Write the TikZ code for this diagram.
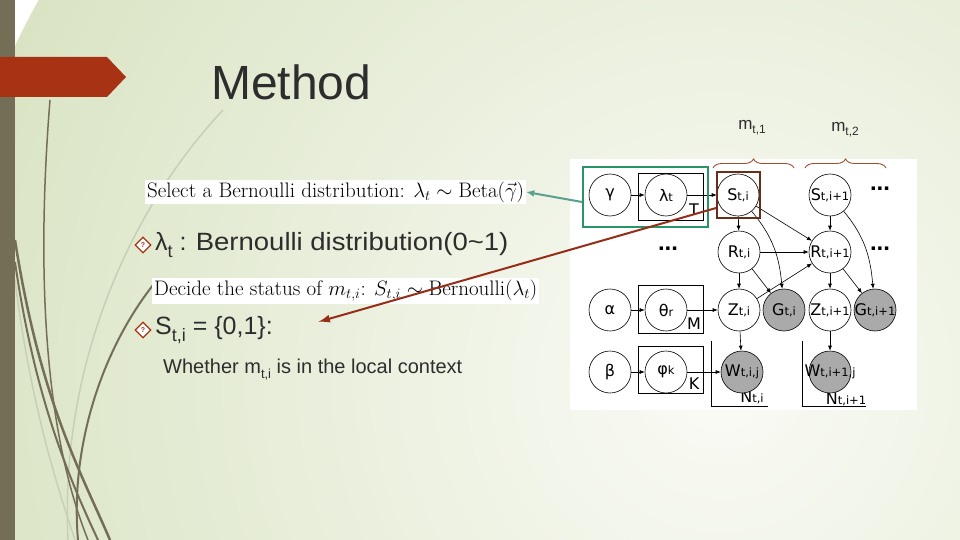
\documentclass[tikz,border=0pt]{standalone}
\usepackage{fontspec}
\newfontfamily\arial{Liberation Sans}
\newfontfamily\gfont{DejaVu Sans}
\usetikzlibrary{arrows.meta,decorations.pathreplacing,shapes.geometric}
\definecolor{olivebar}{RGB}{117,110,87}
\definecolor{bannerc}{RGB}{168,50,20}
\definecolor{bgA}{RGB}{218,228,196}
\definecolor{bgB}{RGB}{250,251,246}
\definecolor{gboxc}{RGB}{40,150,100}
\definecolor{bboxc}{RGB}{105,45,25}
\definecolor{redarr}{RGB}{150,45,25}
\definecolor{tealarr}{RGB}{90,160,145}
\definecolor{nodegrey}{RGB}{170,170,170}
\definecolor{bracec}{RGB}{160,80,45}
\definecolor{lightcurve}{RGB}{200,207,185}
\definecolor{txt}{RGB}{45,45,45}
\newcommand\sbs[1]{{\fontsize{11.5}{11.5}\selectfont #1}}
\tikzset{
  gn/.style={circle,draw,line width=0.6,minimum size=42,inner sep=0,fill=white},
  gg/.style={gn,fill=nodegrey},
  glab/.style={font=\gfont\fontsize{16}{16}\selectfont,inner sep=0},
  arr/.style={-{Latex[length=5,width=4]},line width=0.6},
  plate/.style={draw,line width=0.7},
  deco/.style={olivebar,line width=2},
  decolight/.style={lightcurve,line width=1.5},
  whitebox/.style={fill=white,inner sep=2,anchor=west,font=\fontsize{21}{21}\selectfont},
  bullet/.style={diamond,draw=bannerc,line width=1.2,fill=white,minimum size=16,inner sep=0,font=\arial\fontsize{7}{7}\selectfont\bfseries\color{bannerc}},
  btext/.style={anchor=west,inner sep=0,text=txt,font=\arial\fontsize{25}{25}\selectfont},
  dots/.style={font=\arial\bfseries\fontsize{24}{24}\selectfont,inner sep=0},
}
\begin{document}
\begin{tikzpicture}[x=1pt,y=-1pt]
\useasboundingbox (0,0) rectangle (960,540);
% background
\begin{scope}
\clip (0,0) rectangle (960,540);
\shade[inner color=bgB,outer color=bgA] (720,380) circle (780);
\end{scope}
% decorative curves
\draw[decolight] (223,110) .. controls (120,220) and (60,380) .. (68,540);
\draw[decolight] (15,280) .. controls (30,400) and (55,480) .. (75,540);
\draw[deco,line width=1.5] (50,100) .. controls (38,250) and (40,420) .. (88,540);
\draw[deco,line width=2.5] (15,240) .. controls (40,400) and (80,470) .. (110,540);
\draw[deco] (15,262) .. controls (35,400) and (70,480) .. (98,540);
\draw[deco] (157,280) .. controls (100,350) and (70,450) .. (78,540);
% left bar and banner
\fill[olivebar] (0,0) rectangle (15,540);
\fill[bannerc] (0,57) -- (107,57) -- (126,77) -- (107,97) -- (0,97) -- cycle;
% title
\node[anchor=west,inner sep=0,text=txt,font=\arial\fontsize{48}{48}\selectfont] (title) at (211,82) {Method};
% formula boxes
\node[whitebox] (t1) at (145,192) {Select a Bernoulli distribution: $\lambda_t\sim\mathrm{Beta}(\vec{\gamma})$};
\node[whitebox] (t2) at (152,291) {Decide the status of $m_{t,i}$: $S_{t,i}\sim\mathrm{Bernoulli}(\lambda_t)$};
% bullets
\node[bullet] (b1) at (143,245) {?};
\node[btext] (l1) at (155,245) {λ\raisebox{-7pt}{\fontsize{18}{18}\selectfont t} : \scalebox{1.1}[1]{Bernoulli distribution(0\textasciitilde 1)}};
\node[bullet] (b2) at (143,330) {?};
\node[btext] (l2) at (155,330) {S\raisebox{-7pt}{\fontsize{18}{18}\selectfont t,i} = \{0,1\}:};
\node[btext,font=\arial\fontsize{20}{20}\selectfont] (l3) at (163,370) {Whether m\raisebox{-5pt}{\fontsize{13}{13}\selectfont t,i} is in the local context};
% white panel
\fill[white] (570,159) rectangle (917,410);
% plates
\draw[plate] (638,173) rectangle (703,220);
\draw[plate] (638,285) rectangle (703,333);
\draw[plate] (638,346) rectangle (703,393);
\draw[plate] (711,341) -- (711,406) -- (768,406);
\draw[plate] (802,341) -- (802,406) -- (866,406);
\node[glab] (pT) at (694,210) {T};
\node[glab] (pM) at (694,324) {M};
\node[glab] (pK) at (694,384) {K};
\node[glab] (pN1) at (752,397) {N\sbs{t,i}};
\node[glab] (pN2) at (846,399) {N\sbs{t,i+1}};
% graph nodes
\node[gn,label={[glab]center:γ}] (ga) at (610,195) {};
\node[gn,label={[glab]center:λ\sbs{t}}] (la) at (666,195) {};
\node[gn,label={[glab]center:S\sbs{t,i}}] (s1) at (738,195) {};
\node[gn,label={[glab]center:S\sbs{t,i+1}}] (s2) at (830,195) {};
\node[gn,label={[glab]center:R\sbs{t,i}}] (r1) at (739,252) {};
\node[gn,label={[glab]center:R\sbs{t,i+1}}] (r2) at (830,252) {};
\node[gn,label={[glab]center:Z\sbs{t,i}}] (z1) at (739,310) {};
\node[gg,label={[glab]center:G\sbs{t,i}}] (g1) at (784,310) {};
\node[gn,label={[glab]center:Z\sbs{t,i+1}}] (z2) at (830,310) {};
\node[gg,label={[glab]center:G\sbs{t,i+1}}] (g2) at (875,310) {};
\node[gn,label={[glab]center:α}] (al) at (610,310) {};
\node[gn,label={[glab]center:θ\sbs{r}}] (th) at (666,310) {};
\node[gn,label={[glab]center:β}] (be) at (610,372) {};
\node[gn,label={[glab]center:φ\sbs{k}}] (ph) at (666,372) {};
\node[gg,label={[glab]center:W\sbs{t,i,j}}] (w1) at (742,372) {};
\node[gg,label={[glab]center:W\sbs{t,i+1,j}}] (w2) at (830,372) {};
% dots
\node[dots] (d1) at (880,189) {...};
\node[dots] (d2) at (668,249) {...};
\node[dots] (d3) at (880,249) {...};
% arrows
\draw[arr] (ga) -- (la);
\draw[arr] (la) -- (s1);
\draw[arr] (s1) -- (r1);
\draw[arr] (s1) -- (r2);
\draw[arr] (s1) to[out=-50,in=95] (g1);
\draw[arr] (s2) -- (r2);
\draw[arr] (s2) to[out=-50,in=95] (g2);
\draw[arr] (r1) -- (r2);
\draw[arr] (r1) -- (z1);
\draw[arr] (r1) -- (g1);
\draw[arr] (z1) -- (r2);
\draw[arr] (r2) -- (z2);
\draw[arr] (r2) -- (g2);
\draw[arr] (al) -- (th);
\draw[arr] (th) -- (z1);
\draw[arr] (z1) -- (w1);
\draw[arr] (z2) -- (w2);
\draw[arr] (be) -- (ph);
\draw[arr] (ph) -- (w1);
% highlight boxes
\node[draw=gboxc,line width=1.8,minimum width=125,minimum height=60,inner sep=0] (gb) at (645.5,197) {};
\node[draw=bboxc,line width=2,minimum width=43,minimum height=46,inner sep=0] (bb) at (738.5,195) {};
% braces
\draw[bracec,line width=0.9,decorate,decoration={brace,amplitude=9}] (713,168) -- (794,168);
\draw[bracec,line width=0.9,decorate,decoration={brace,amplitude=9}] (805,168) -- (886,168);
\node[font=\arial\fontsize{17}{17}\selectfont,text=txt] (m1) at (752,128) {m\raisebox{-4pt}{\fontsize{12}{12}\selectfont t,1}};
\node[font=\arial\fontsize{17}{17}\selectfont,text=txt] (m2) at (845,130) {m\raisebox{-4pt}{\fontsize{12}{12}\selectfont t,2}};
% overlay arrows
\draw[tealarr,line width=2,-{Latex[length=8,width=7]}] ([yshift=-5pt]gb.west) -- (t1.east);
\coordinate (rtip) at (318,322);
\draw[redarr,line width=2,-{Latex[length=12,width=8]}] ([yshift=-13pt]bb.west) -- (rtip);
\end{tikzpicture}
\end{document}
